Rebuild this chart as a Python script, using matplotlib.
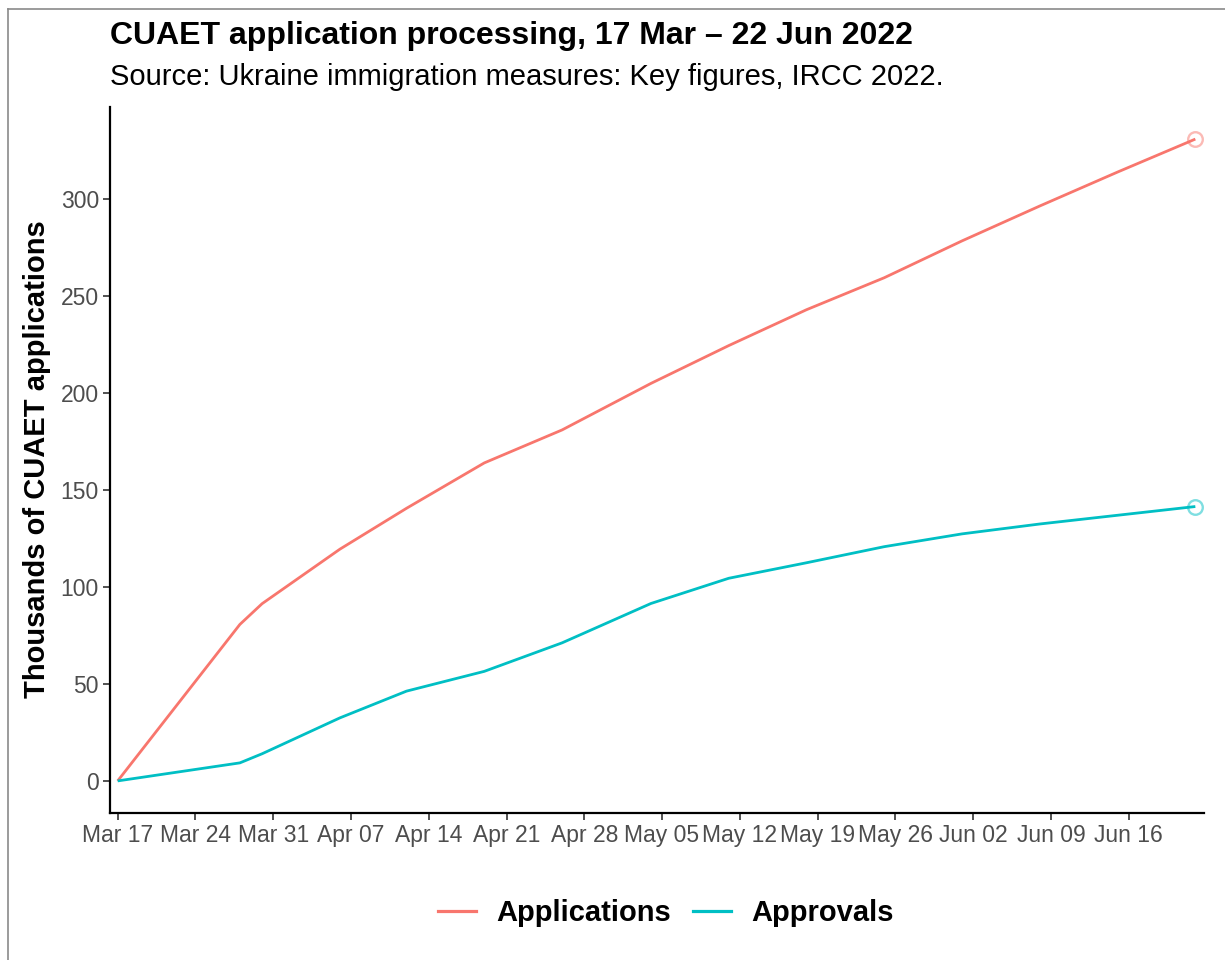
import numpy as np
import pandas as pd
import matplotlib
matplotlib.use("Agg")
import matplotlib.pyplot as plt
import matplotlib.dates as mdates
from matplotlib.lines import Line2D

# ---- data (thousands of CUAET applications) ----
dates = ["2022-03-17", "2022-03-28", "2022-03-30", "2022-04-06", "2022-04-12",
         "2022-04-19", "2022-04-26", "2022-05-04", "2022-05-11", "2022-05-18",
         "2022-05-25", "2022-06-01", "2022-06-08", "2022-06-15", "2022-06-22"]
applications = [0, 80.7, 91.4, 119.5, 140.6, 164.0, 181.0, 205.0, 224.5, 243.0,
                259.5, 278.5, 296.5, 314.0, 331.0]
approvals = [0, 9.3, 14.0, 32.5, 46.3, 56.5, 71.2, 91.5, 104.5, 112.5,
             120.8, 127.4, 132.5, 137.0, 141.5]
series_names = ["Applications", "Approvals"]
colors = ["#F8766D", "#00BFC4"]

title = "CUAET application processing, 17 Mar \u2013 22 Jun 2022"
subtitle = "Source: Ukraine immigration measures: Key figures, IRCC 2022."
ylabel = "Thousands of CUAET applications"
yticks = [0, 50, 100, 150, 200, 250, 300]

plt.rcParams['font.family'] = ['Liberation Sans', 'DejaVu Sans']

W, H = 1225, 960
fig = plt.figure(figsize=(W / 100, H / 100), dpi=100)
fig.patch.set_facecolor("white")

L, R, T, B = 110, 1204, 107, 813
ax = fig.add_axes([L / W, 1 - B / H, (R - L) / W, (B - T) / H])

x = pd.to_datetime(dates)
for name, vals, c in zip(series_names, [applications, approvals], colors):
    ax.plot(x, vals, color=c, lw=2.0, solid_capstyle='butt', label=name)
    ax.plot(x[-1:], vals[-1:], 'o', ms=10.5, mfc='none', mec=c, mew=1.7, alpha=0.5)

x0 = pd.Timestamp("2022-03-17")
ax.set_xlim(mdates.date2num(x0 - pd.Timedelta(days=0.69)),
            mdates.date2num(x0 + pd.Timedelta(days=97.78)))
ax.set_ylim(-16.55, 347.55)

ticks = pd.date_range("2022-03-17", "2022-06-16", freq="7D")
ax.set_xticks(mdates.date2num(ticks))
ax.set_xticklabels([t.strftime("%b %d") for t in ticks])
ax.set_yticks(yticks)
ax.set_yticklabels([str(v) for v in yticks])

for s in ["top", "right"]:
    ax.spines[s].set_visible(False)
for s in ["left", "bottom"]:
    ax.spines[s].set_linewidth(1.6)
    ax.spines[s].set_color("black")
ax.tick_params(axis='both', length=5, width=1.2, color="#333333",
               labelsize=16.5, labelcolor="#4D4D4D", pad=3)

fig.text(L / W, 1 - 36 / H, title, fontsize=23, fontweight='bold', va='center', ha='left')
fig.text(L / W, 1 - 77 / H, subtitle, fontsize=21, va='center', ha='left')
fig.text(37 / W, 1 - 459 / H, ylabel, fontsize=21, fontweight='bold',
         rotation=90, va='center', ha='center')

handles = [Line2D([], [], color=c, lw=2.3) for c in colors]
fig.legend(handles, series_names, loc='center', bbox_to_anchor=(666 / W, 1 - 913 / H),
           ncol=2, frameon=False, prop={'size': 21, 'weight': 'bold'},
           handlelength=1.3, handletextpad=0.7, columnspacing=0.75)

# thin border (top and left edges as in reference)
fig.add_artist(Line2D([8 / W, 1], [1 - 9 / H, 1 - 9 / H], transform=fig.transFigure,
                      color="#8a8a8a", lw=1.2))
fig.add_artist(Line2D([8 / W, 8 / W], [0, 1 - 9 / H], transform=fig.transFigure,
                      color="#8a8a8a", lw=1.2))

fig.savefig("out.png", dpi=100)
